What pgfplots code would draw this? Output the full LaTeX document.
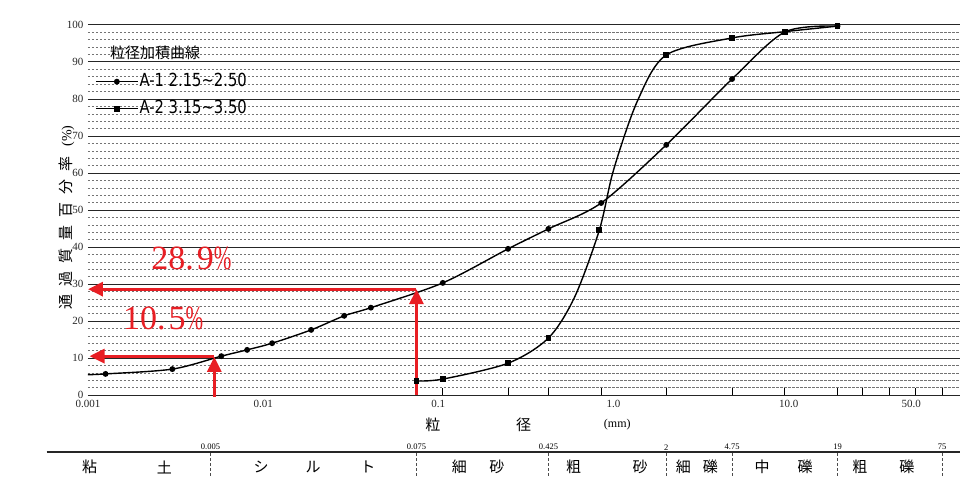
\documentclass[border=0pt]{standalone}
\usepackage{fontspec}
\setmainfont{Liberation Serif}
\newfontfamily\cjk{Noto Sans CJK JP}
\newfontfamily\legf[FakeStretch=0.82]{DejaVu Sans}
\usepackage{graphicx}
\usepackage{pgfplots}
\pgfplotsset{compat=1.18}
\usetikzlibrary{arrows.meta}
\definecolor{annred}{RGB}{232,30,36}
\newcommand{\cj}[1]{{\cjk\fontsize{15}{15}\selectfont #1}}
\begin{document}
\begin{tikzpicture}
\begin{axis}[
  scale only axis, width=872pt, height=370pt,
  xmode=log, xmin=0.001, xmax=95, ymin=0, ymax=100,
  clip=false,
  axis line style={draw=none},
  xtick={0.001,0.01,0.1,1,10,50},
  xticklabels={0.001,0.01,0.1,1.0,10.0,50.0},
  ytick={0,10,20,30,40,50,60,70,80,90,100},
  minor ytick={2,4,6,8,12,14,16,18,22,24,26,28,32,34,36,38,42,44,46,48,52,54,56,58,62,64,66,68,72,74,76,78,82,84,86,88,92,94,96,98},
  ymajorgrids, yminorgrids,
  major grid style={black!85, line width=1pt},
  minor grid style={black!55, line width=0.6pt, dash pattern=on 2.5pt off 1.5pt},
  major tick length=0pt, minor tick length=0pt,
  xtick pos=left, ytick pos=left,
  extra x ticks={0.075,0.106,0.25,0.425,0.85,2,4.75,9.5,19,26.5,37.5,53,75},
  extra x tick labels={},
  extra x tick style={grid=none, major tick length=7pt, tick align=inside, tick style={black, line width=0.9pt}},
  tick label style={font=\fontsize{11}{12}\selectfont, text=black!85},
  xticklabel style={yshift=-2pt},
  yticklabel style={xshift=-1pt},
  /pgf/number format/assume math mode=true,
  legend style={draw=none, fill=none, at={(rel axis cs:0.008,0.869)}, anchor=north west,
    inner sep=0pt, row sep=11pt, column sep=0pt,
    font=\legf\fontsize{18}{18}\selectfont,
    nodes={inner sep=1pt, text height=12pt, text depth=2pt}},
  legend cell align=left,
  legend image code/.code={\draw[#1, mark indices={2}] plot coordinates {(0pt,0pt) (21pt,0pt) (42pt,0pt)};},
]
% A-1
\addplot[black, line width=1.4pt, smooth, mark=*, mark size=2.2pt, mark indices={2,3,4,5,6,7,8,9,10,11,12,13,14,15,16,17}]
coordinates {(0.001,5.5) (0.00126,5.7) (0.00303,7.0) (0.00577,10.5) (0.0081,12.2) (0.01125,14.0) (0.0188,17.6) (0.029,21.4) (0.0412,23.6) (0.106,30.3) (0.25,39.5) (0.425,44.9) (0.85,51.9) (2,67.6) (4.75,85.4) (9.5,98.1) (19,99.7)};
\addlegendentry{A-1 2.15\textasciitilde 2.50}
% A-2
\addplot[black, line width=1.4pt, smooth, mark=square*, mark size=2.2pt, mark indices={1,2,3,4,6,9,10,11,12}]
coordinates {(0.075,3.8) (0.106,4.3) (0.25,8.6) (0.425,15.4) (0.6,26.5) (0.83,44.6) (1.0,60.8) (1.37,79.5) (2,91.9) (4.75,96.5) (9.5,98.2) (19,99.7)};
\addlegendentry{A-2 3.15\textasciitilde 3.50}

% legend title
\node[anchor=west, font=\cjk\fontsize{15}{15}\selectfont, inner sep=0pt] at (rel axis cs:0.0252,0.924) {粒径加積曲線};

% y label
\node[rotate=90, font=\cjk\fontsize{15}{15}\selectfont, inner sep=0pt] at (axis cs:0.000754,48) {通\hspace{8pt}過\hspace{8pt}質\hspace{8pt}量\hspace{8pt}百\hspace{8pt}分\hspace{8pt}率\hspace{10pt}{\rmfamily\fontsize{14}{14}\selectfont (\%)}};

% x label
\node[font=\cjk\fontsize{15}{15}\selectfont] at (axis cs:0.093,-8.1) {粒};
\node[font=\cjk\fontsize{15}{15}\selectfont] at (axis cs:0.307,-8.1) {径};
\node[font=\fontsize{12}{12}\selectfont] at (axis cs:1.05,-8.1) {(mm)};

% red annotations
\draw[annred, line width=3pt, -{Triangle[length=15pt,width=14pt]}] (axis cs:0.075,0) -- (axis cs:0.075,28.6);
\draw[annred, line width=3pt, -{Triangle[length=15pt,width=14pt]}] (axis cs:0.075,28.6) -- (axis cs:0.001,28.6);
\draw[annred, line width=3pt, -{Triangle[length=15pt,width=14pt]}] (axis cs:0.00526,-0.5) -- (axis cs:0.00526,10.3);
\draw[annred, line width=3pt, -{Triangle[length=15pt,width=14pt]}] (axis cs:0.00526,10.5) -- (axis cs:0.00102,10.5);
\node[annred, font=\fontsize{34}{34}\selectfont] at (axis cs:0.00389,36.8) {28.\hspace{3pt}9\scalebox{0.62}[1]{\%}};
\node[annred, font=\fontsize{34}{34}\selectfont] at (axis cs:0.00269,20.6) {10.\hspace{3pt}5\scalebox{0.62}[1]{\%}};

% classification table
\draw[black!85, line width=1.2pt] (axis cs:0.00058,-15.4) -- (axis cs:95,-15.4);
\node[font=\fontsize{8.5}{9}\selectfont, anchor=south, inner sep=1pt] at (axis cs:0.005,-15.2) {0.005};
\node[font=\fontsize{8.5}{9}\selectfont, anchor=south, inner sep=1pt] at (axis cs:0.075,-15.2) {0.075};
\node[font=\fontsize{8.5}{9}\selectfont, anchor=south, inner sep=1pt] at (axis cs:0.425,-15.2) {0.425};
\node[font=\fontsize{8.5}{9}\selectfont, anchor=south, inner sep=1pt] at (axis cs:2,-15.2) {2};
\node[font=\fontsize{8.5}{9}\selectfont, anchor=south, inner sep=1pt] at (axis cs:4.75,-15.2) {4.75};
\node[font=\fontsize{8.5}{9}\selectfont, anchor=south, inner sep=1pt] at (axis cs:19,-15.2) {19};
\node[font=\fontsize{8.5}{9}\selectfont, anchor=south, inner sep=1pt] at (axis cs:75,-15.2) {75};
\draw[black!70, densely dashed, line width=0.6pt] (axis cs:0.005,-15.7) -- (axis cs:0.005,-22.3);
\draw[black!70, densely dashed, line width=0.6pt] (axis cs:0.075,-15.7) -- (axis cs:0.075,-22.3);
\draw[black!70, densely dashed, line width=0.6pt] (axis cs:0.425,-15.7) -- (axis cs:0.425,-22.3);
\draw[black!70, densely dashed, line width=0.6pt] (axis cs:2,-15.7) -- (axis cs:2,-22.3);
\draw[black!70, densely dashed, line width=0.6pt] (axis cs:4.75,-15.7) -- (axis cs:4.75,-22.3);
\draw[black!70, densely dashed, line width=0.6pt] (axis cs:19,-15.7) -- (axis cs:19,-22.3);
\draw[black!70, densely dashed, line width=0.6pt] (axis cs:75,-15.7) -- (axis cs:75,-22.3);
\node at (axis cs:0.00102,-19.5) {\cj{粘}};
\node at (axis cs:0.00273,-19.5) {\cj{土}};
\node at (axis cs:0.00975,-19.5) {\cj{シ}};
\node at (axis cs:0.0193,-19.5) {\cj{ル}};
\node at (axis cs:0.0396,-19.5) {\cj{ト}};
\node at (axis cs:0.132,-19.5) {\cj{細}};
\node at (axis cs:0.216,-19.5) {\cj{砂}};
\node at (axis cs:0.592,-19.5) {\cj{粗}};
\node at (axis cs:1.42,-19.5) {\cj{砂}};
\node at (axis cs:2.506,-19.5) {\cj{細}};
\node at (axis cs:3.57,-19.5) {\cj{礫}};
\node at (axis cs:7.06,-19.5) {\cj{中}};
\node at (axis cs:12.4,-19.5) {\cj{礫}};
\node at (axis cs:25.5,-19.5) {\cj{粗}};
\node at (axis cs:47.3,-19.5) {\cj{礫}};
\end{axis}
\pgfresetboundingbox
\path[use as bounding box] (-88pt,-82pt) rectangle (886pt,395pt);
\end{tikzpicture}
\end{document}
